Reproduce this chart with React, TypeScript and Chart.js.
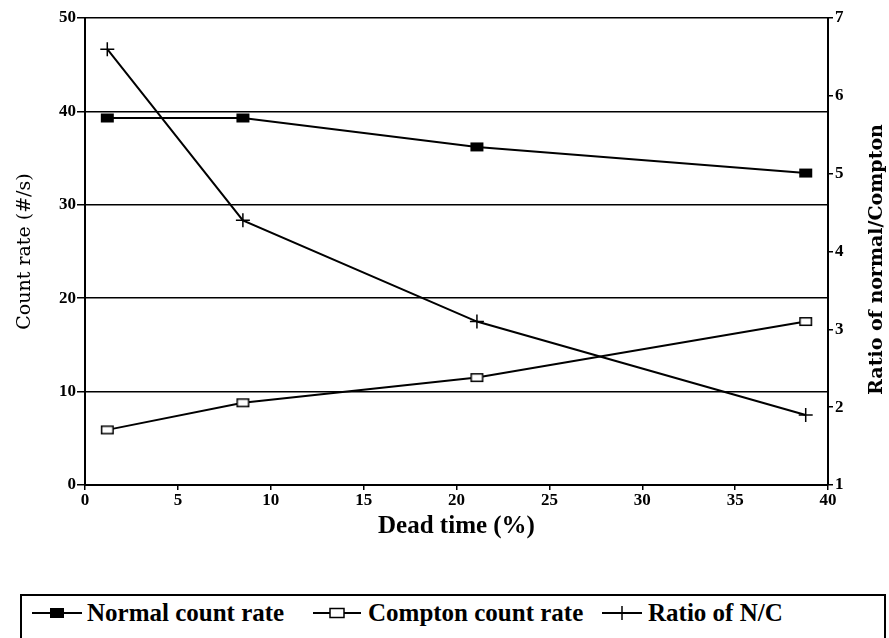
import React, { useEffect, useRef } from 'react';
import { Chart, registerables } from 'chart.js';

Chart.register(...registerables);

// Dead time (%) for each measurement
const deadTime = [1.2, 8.5, 21.1, 38.8];
// Count rates (#/s)
const normalRate = [39.3, 39.3, 36.2, 33.4];
const comptonRate = [5.9, 8.8, 11.5, 17.5];
// Ratio of normal / Compton
const ratioNC = [6.6, 4.4, 3.1, 1.9];

const xRange = [0, 40];
const countRange = [0, 50];
const ratioRange = [1, 7];

const seriesNames = ['Normal count rate', 'Compton count rate', 'Ratio of N/C'];

const TICK_FONT = { family: '"Liberation Serif", serif', size: 17, weight: 'bold' as const };

function makeRectMarker(filled: boolean): HTMLCanvasElement {
  const c = document.createElement('canvas');
  c.width = 15;
  c.height = 11;
  const g = c.getContext('2d')!;
  if (filled) {
    g.fillStyle = '#000';
    g.fillRect(1, 1, 13, 9);
  } else {
    g.fillStyle = '#fff';
    g.fillRect(1, 1, 13, 9);
    g.strokeStyle = '#000';
    g.lineWidth = 1.5;
    g.strokeRect(1.75, 1.75, 11.5, 7.5);
  }
  return c;
}

// Right-hand axis title, reading bottom to top like the left one
const rightTitlePlugin = {
  id: 'rightTitle',
  afterDraw(chart: any) {
    const { ctx, chartArea } = chart;
    ctx.save();
    ctx.translate(877, (chartArea.top + chartArea.bottom) / 2 + 8);
    ctx.rotate(-Math.PI / 2);
    ctx.font = 'bold 19px "DejaVu Serif", serif';
    ctx.textAlign = 'center';
    ctx.textBaseline = 'middle';
    ctx.fillStyle = '#000';
    ctx.fillText('Ratio of normal/Compton', 0, 0);
    ctx.restore();
  },
};

function LegendIcon({ kind, width }: { kind: 'filled' | 'open' | 'cross'; width: number }) {
  const cx = width / 2;
  return (
    <svg width={width} height={16} style={{ display: 'block' }}>
      <line x1={0} y1={8} x2={width} y2={8} stroke="#000" strokeWidth={2} />
      {kind === 'filled' && <rect x={cx - 7} y={3} width={14} height={10} fill="#000" />}
      {kind === 'open' && (
        <rect x={cx - 7} y={3.5} width={14} height={9} fill="#fff" stroke="#000" strokeWidth={1.5} />
      )}
      {kind === 'cross' && <line x1={cx} y1={1} x2={cx} y2={15} stroke="#000" strokeWidth={1.5} />}
    </svg>
  );
}

export default function App() {
  const canvasRef = useRef<HTMLCanvasElement | null>(null);

  useEffect(() => {
    const canvas = canvasRef.current;
    if (!canvas) return;
    const filled = makeRectMarker(true);
    const open = makeRectMarker(false);

    const chart = new Chart(canvas, {
      type: 'line',
      data: {
        datasets: [
          {
            label: seriesNames[0],
            data: deadTime.map((x, i) => ({ x, y: normalRate[i] })),
            yAxisID: 'yCount',
            borderColor: '#000',
            borderWidth: 2,
            pointStyle: filled as any,
            pointRadius: 6,
            tension: 0,
          },
          {
            label: seriesNames[1],
            data: deadTime.map((x, i) => ({ x, y: comptonRate[i] })),
            yAxisID: 'yCount',
            borderColor: '#000',
            borderWidth: 2,
            pointStyle: open as any,
            pointRadius: 6,
            tension: 0,
          },
          {
            label: seriesNames[2],
            data: deadTime.map((x, i) => ({ x, y: ratioNC[i] })),
            yAxisID: 'yRatio',
            borderColor: '#000',
            borderWidth: 2,
            pointStyle: 'cross',
            pointRadius: 7,
            pointBorderWidth: 1.5,
            pointBorderColor: '#000',
            tension: 0,
          },
        ],
      },
      options: {
        responsive: false,
        animation: false,
        layout: { padding: { top: 18, left: 0, right: 0, bottom: 0 } },
        plugins: {
          legend: { display: false },
          tooltip: { enabled: false },
        },
        scales: {
          x: {
            type: 'linear',
            position: 'bottom',
            min: xRange[0],
            max: xRange[1],
            ticks: { stepSize: 5, color: '#000', font: TICK_FONT, padding: 0, maxRotation: 0 },
            grid: { drawOnChartArea: false, drawTicks: true, tickLength: 5, color: '#000', lineWidth: 1.5 },
            border: { color: '#000', width: 2 },
            title: {
              display: true,
              text: 'Dead time (%)',
              color: '#000',
              font: { family: '"Liberation Serif", serif', size: 25, weight: 'bold' },
              padding: { top: 0, bottom: 33 },
            },
            afterFit: (s: any) => {
              s.height = 90;
            },
          },
          yCount: {
            type: 'linear',
            position: 'left',
            min: countRange[0],
            max: countRange[1],
            ticks: { stepSize: 10, color: '#000', font: TICK_FONT, padding: 1 },
            grid: { drawOnChartArea: true, drawTicks: true, tickLength: 8, color: '#000', lineWidth: 1.5 },
            border: { color: '#000', width: 2 },
            title: {
              display: true,
              text: 'Count rate (#/s)',
              color: '#000',
              font: { family: '"DejaVu Serif", serif', size: 19, weight: 'normal' },
              padding: { top: 14, bottom: 0 },
            },
            afterFit: (s: any) => {
              s.width = 85;
            },
          },
          yRatio: {
            type: 'linear',
            position: 'right',
            min: ratioRange[0],
            max: ratioRange[1],
            ticks: { stepSize: 1, color: '#000', font: TICK_FONT, padding: 2 },
            grid: { drawOnChartArea: false, drawTicks: true, tickLength: 5, color: '#000', lineWidth: 1.5 },
            border: { color: '#000', width: 2 },
            afterFit: (s: any) => {
              s.width = 61;
            },
          },
        },
      },
      plugins: [rightTitlePlugin],
    });

    return () => chart.destroy();
  }, []);

  const legendFont = 'bold 25px "Liberation Serif", serif';

  return (
    <div style={{ position: 'absolute', left: 0, top: 0, width: 889, height: 638, background: '#fff' }}>
      <canvas ref={canvasRef} width={889} height={575} style={{ position: 'absolute', left: 0, top: 0 }} />
      <div
        style={{
          position: 'absolute',
          left: 20,
          top: 594,
          width: 866,
          height: 44,
          boxSizing: 'border-box',
          border: '2px solid #000',
          borderBottom: 'none',
        }}
      />
      {[
        { kind: 'filled' as const, iconLeft: 32, iconWidth: 50, textLeft: 87 },
        { kind: 'open' as const, iconLeft: 313, iconWidth: 48, textLeft: 368 },
        { kind: 'cross' as const, iconLeft: 602, iconWidth: 40, textLeft: 648 },
      ].map((item, i) => (
        <React.Fragment key={i}>
          <div style={{ position: 'absolute', left: item.iconLeft, top: 605 }}>
            <LegendIcon kind={item.kind} width={item.iconWidth} />
          </div>
          <div
            style={{
              position: 'absolute',
              left: item.textLeft,
              top: 597,
              font: legendFont,
              lineHeight: '32px',
              whiteSpace: 'nowrap',
              color: '#000',
            }}
          >
            {seriesNames[i]}
          </div>
        </React.Fragment>
      ))}
    </div>
  );
}
